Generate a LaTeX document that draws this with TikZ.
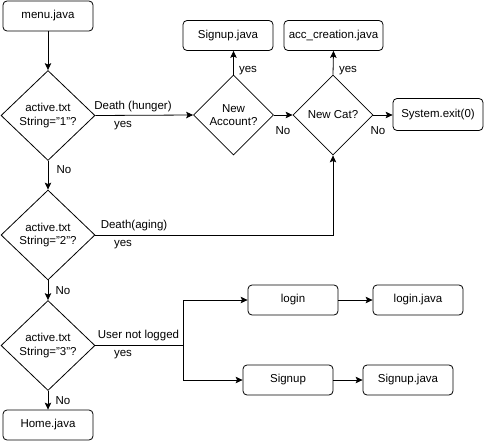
\documentclass[tikz,border=0pt]{standalone}
\usepackage{fontspec}
\setmainfont{Liberation Sans}
\usetikzlibrary{shapes.geometric}
\usetikzlibrary{arrows.meta}

\begin{document}
\begin{tikzpicture}
	[x=1pt,y=-1pt,line width=0.8,>={Stealth[length=7pt,width=6.5pt,inset=1.5pt]},
	font=\fontsize{11.5}{13.5}\selectfont,
	box/.style = {
		draw, rounded corners=4pt, inner sep=0pt,
		minimum width=90pt, minimum height=30pt
	},
	test/.style = {
		draw, diamond, aspect=1, inner sep=0pt, align=center,
		minimum width=94pt, minimum height=90pt
	},
	smalltest/.style = {
		test, minimum width=80pt, minimum height=80pt
	},
	lbl/.style = {
		inner sep=0pt
	}]
	
	\useasboundingbox (0,0) rectangle (484,441);
	
	%Draw nodes
	\node[box] at (48,16) (menu) {menu.java};
	\node[test] at (48,115.5) (q1) {active.txt\\String="1"?};
	\node[test] at (48,235) (q2) {active.txt\\String="2"?};
	\node[test] at (48,345.5) (q3) {active.txt\\String="3"?};
	\node[box] at (48,425) (home) {Home.java};
	
	\node[smalltest] at (233.5,115) (newacc) {New\\Account?};
	\node[smalltest] at (333,115) (newcat) {New Cat?};
	\node[box] at (228,35.5) (signupa) {Signup.java};
	\node[box, minimum width=99pt] at (333.5,35.5) (acc) {acc\_creation.java};
	\node[box, minimum height=32pt] at (438,114.5) (exit) {System.exit(0)};
	
	\node[box] at (293,300) (login) {login};
	\node[box] at (418,300) (loginjava) {login.java};
	\node[box] at (288,380) (signupb) {Signup};
	\node[box] at (408,380) (signupjava) {Signup.java};
	
	\coordinate (split) at (183,345.5);
	
	%labels on wires
	\node[lbl] at (133,107) (lhunger) {Death (hunger)};
	\node[lbl] at (123,126) (yes1) {yes};
	\node[lbl] at (64,170) (no1) {No};
	\node[lbl] at (134,226) (laging) {Death(aging)};
	\node[lbl] at (123,245) (yes2) {yes};
	\node[lbl] at (63,291) (no2) {No};
	\node[lbl] at (138.5,336) (llogged) {User not logged};
	\node[lbl] at (123,355) (yes3) {yes};
	\node[lbl] at (63,401) (no3) {No};
	\node[lbl] at (248,71) (yes4) {yes};
	\node[lbl] at (283,131) (no4) {No};
	\node[lbl] at (348,71) (yes5) {yes};
	\node[lbl] at (378,131) (no5) {No};
	
	%Draw wires
	\draw[->] (menu) -- (q1);
	\draw[->] (q1) -- (q2);
	\draw[->] (q2) -- (q3);
	\draw[->] (q3) -- (home);
	
	\draw[->] (q1.east) -- (newacc.west);
	\draw[->] (newacc.north) -- (newacc.north |- signupa.south);
	\draw[->] (newacc.east) -- (newcat.west);
	\draw[->] (newcat.north) -- (acc.south);
	\draw[->] (newcat.east) -- (exit.west |- newcat.east);
	
	\draw[->] (q2.east) -| (newcat.south);
	
	\draw (q3.east) -- (split);
	\draw[->] (split) |- (login.west);
	\draw[->] (split) |- (signupb.west);
	\draw[->] (login) -- (loginjava);
	\draw[->] (signupb) -- (signupjava);
	
\end{tikzpicture}
\end{document}
